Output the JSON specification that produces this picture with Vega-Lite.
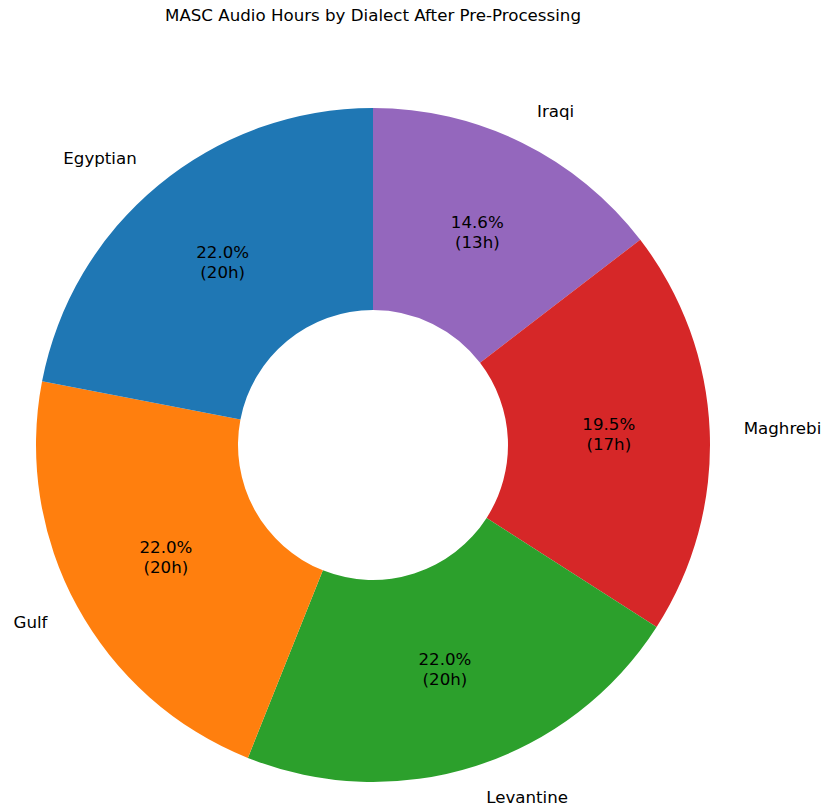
{
  "$schema": "https://vega.github.io/schema/vega-lite/v6.json",
  "width": 674,
  "height": 674,
  "autosize": {"type": "none"},
  "padding": {"left": 36, "top": 108, "right": 113, "bottom": 30},
  "background": "white",
  "title": {
    "text": "MASC Audio Hours by Dialect After Pre-Processing",
    "font": "DejaVu Sans",
    "fontSize": 16.67,
    "fontWeight": "normal",
    "color": "black",
    "anchor": "middle",
    "offset": 80
  },
  "config": {"view": {"stroke": null}},
  "data": {
    "values": [
      {"idx": 1, "dialect": "Iraqi", "hours": 13.0, "inner": "14.6%\n(13h)"},
      {"idx": 2, "dialect": "Maghrebi", "hours": 17.4, "inner": "19.5%\n(17h)"},
      {"idx": 3, "dialect": "Levantine", "hours": 19.6, "inner": "22.0%\n(20h)"},
      {"idx": 4, "dialect": "Gulf", "hours": 19.6, "inner": "22.0%\n(20h)"},
      {"idx": 5, "dialect": "Egyptian", "hours": 19.6, "inner": "22.0%\n(20h)"}
    ]
  },
  "transform": [
    {"stack": "hours", "groupby": [], "sort": [{"field": "idx", "order": "ascending"}], "as": ["start", "end"]},
    {"calculate": "(datum.start + datum.end) / 2", "as": "mid"}
  ],
  "layer": [
    {
      "mark": {"type": "arc", "innerRadius": 135, "outerRadius": 337},
      "encoding": {
        "theta": {"field": "start", "type": "quantitative", "scale": {"domain": [0, 89.2], "nice": false, "zero": true}},
        "theta2": {"field": "end"},
        "color": {
          "field": "dialect",
          "type": "nominal",
          "scale": {
            "domain": ["Egyptian", "Gulf", "Levantine", "Maghrebi", "Iraqi"],
            "range": ["#1f77b4", "#ff7f0e", "#2ca02c", "#d62728", "#9467bd"]
          },
          "legend": null
        }
      }
    },
    {
      "mark": {"type": "text", "radius": 236, "font": "DejaVu Sans", "fontSize": 16.67, "lineBreak": "\n", "lineHeight": 20, "dy": -10, "align": "center", "baseline": "middle", "color": "black"},
      "encoding": {
        "theta": {"field": "mid", "type": "quantitative"},
        "text": {"field": "inner"}
      }
    },
    {
      "transform": [{"filter": "indexof(['Egyptian', 'Gulf'], datum.dialect) >= 0"}],
      "mark": {"type": "text", "radius": 371, "font": "DejaVu Sans", "fontSize": 16.67, "align": "right", "baseline": "middle", "color": "black"},
      "encoding": {
        "theta": {"field": "mid", "type": "quantitative"},
        "text": {"field": "dialect"}
      }
    },
    {
      "transform": [{"filter": "indexof(['Egyptian', 'Gulf'], datum.dialect) < 0"}],
      "mark": {"type": "text", "radius": 371, "font": "DejaVu Sans", "fontSize": 16.67, "align": "left", "baseline": "middle", "color": "black"},
      "encoding": {
        "theta": {"field": "mid", "type": "quantitative"},
        "text": {"field": "dialect"}
      }
    }
  ]
}
